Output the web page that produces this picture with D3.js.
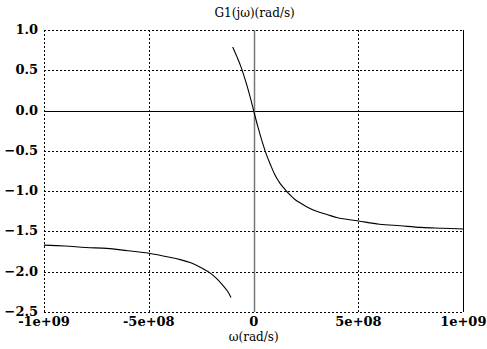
<!DOCTYPE html>
<head>
  <meta charset="utf-8">
  <script src="https://d3js.org/d3.v7.min.js"></script>
  <style>
    body { margin: 0; background: #fff; }
  </style>
</head>
<body>
  <script>
    var width = 487, height = 349;
    var margin = { top: 30, right: 24, bottom: 37, left: 44 };

    // w in rad/s, value
    var rightW = [-1.0e8, -0.8e8, -0.6e8, -0.4e8, -0.2e8, 0, 0.2e8, 0.4e8, 0.6e8, 0.8e8,
      1.0e8, 1.25e8, 1.5e8, 1.75e8, 2.0e8, 2.25e8, 2.5e8, 3.0e8, 3.5e8, 4.0e8, 5.0e8, 6.0e8, 7.0e8, 8.0e8, 9.0e8, 1.0e9];
    var rightV = [0.79, 0.67, 0.54, 0.38, 0.20, 0, -0.20, -0.38, -0.54, -0.67,
      -0.79, -0.90, -0.98, -1.05, -1.11, -1.15, -1.19, -1.25, -1.29, -1.33, -1.37, -1.41, -1.43, -1.45, -1.46, -1.47];
    var leftW = [-1.0e9, -9e8, -8e8, -7e8, -6e8, -5e8, -4e8, -3.5e8, -3e8, -2.5e8, -2e8, -1.75e8, -1.5e8, -1.25e8, -1.08e8];
    var leftV = [-1.67, -1.68, -1.70, -1.71, -1.74, -1.77, -1.82, -1.85, -1.89, -1.95, -2.03, -2.09, -2.16, -2.24, -2.32];

    var xTicks = [-1e9, -5e8, 0, 5e8, 1e9];
    var xTickLabels = ["-1e+09", "-5e+08", "0", "5e+08", "1e+09"];
    var yTicks = [1.0, 0.5, 0.0, -0.5, -1.0, -1.5, -2.0, -2.5];
    var title = "G1(jω)(rad/s)";
    var xTitle = "ω(rad/s)";

    var x = d3.scaleLinear().domain([-1e9, 1e9]).range([margin.left, width - margin.right + 0.3]);
    var y = d3.scaleLinear().domain([-2.5, 1.0]).range([height - margin.bottom, margin.top]);

    var svg = d3.select('body').append('svg')
      .attr('width', width)
      .attr('height', height);

    // grid
    var grid = svg.append('g').attr('stroke', '#000').attr('stroke-width', 1)
      .attr('stroke-dasharray', '2,2');
    grid.selectAll('.gx').data(xTicks).enter().append('line')
      .attr('x1', d => Math.round(x(d)) + 0.5).attr('x2', d => Math.round(x(d)) + 0.5)
      .attr('y1', y(1.0)).attr('y2', y(-2.5));
    grid.selectAll('.gy').data(yTicks).enter().append('line')
      .attr('y1', d => Math.round(y(d)) + 0.5).attr('y2', d => Math.round(y(d)) + 0.5)
      .attr('x1', x(-1e9)).attr('x2', x(1e9));

    // right border solid
    svg.append('line')
      .attr('x1', Math.round(x(1e9)) + 0.5).attr('x2', Math.round(x(1e9)) + 0.5)
      .attr('y1', y(1.0)).attr('y2', y(-2.5))
      .attr('stroke', '#000');

    // zero lines
    svg.append('line')
      .attr('x1', x(-1e9)).attr('x2', x(1e9))
      .attr('y1', Math.round(y(0)) + 0.5).attr('y2', Math.round(y(0)) + 0.5)
      .attr('stroke', '#000');
    svg.append('line')
      .attr('x1', Math.round(x(0)) + 0.5).attr('x2', Math.round(x(0)) + 0.5)
      .attr('y1', y(1.0)).attr('y2', y(-2.5))
      .attr('stroke', '#777').attr('stroke-width', 1.5);

    // curves
    var line = d3.line().x(d => x(d[0])).y(d => y(d[1])).curve(d3.curveCatmullRom.alpha(0.5));
    svg.append('path').datum(d3.zip(rightW, rightV))
      .attr('d', line).attr('fill', 'none').attr('stroke', '#000').attr('stroke-width', 1.1);
    svg.append('path').datum(d3.zip(leftW, leftV))
      .attr('d', line).attr('fill', 'none').attr('stroke', '#000').attr('stroke-width', 1.1);

    // tick labels
    var font = "'DejaVu Serif', 'Liberation Serif', serif";
    svg.append('g').selectAll('text').data(yTicks).enter().append('text')
      .attr('x', margin.left - 6)
      .attr('y', d => y(d) + 4)
      .attr('text-anchor', 'end')
      .attr('font-family', font).attr('font-size', 13).attr('font-weight', 'bold')
      .text(d => d3.format('.1f')(d));
    svg.append('g').selectAll('text').data(xTicks).enter().append('text')
      .attr('x', d => x(d))
      .attr('y', height - margin.bottom + 14)
      .attr('text-anchor', 'middle')
      .attr('font-family', font).attr('font-size', 13).attr('font-weight', 'bold')
      .text((d, i) => xTickLabels[i]);

    svg.append('text')
      .attr('x', x(0) + 1).attr('y', 17)
      .attr('text-anchor', 'middle')
      .attr('font-family', font).attr('font-size', 12)
      .text(title);
    svg.append('text')
      .attr('x', x(0)).attr('y', height - 8)
      .attr('text-anchor', 'middle')
      .attr('font-family', font).attr('font-size', 12)
      .text(xTitle);
  </script>
</body>
